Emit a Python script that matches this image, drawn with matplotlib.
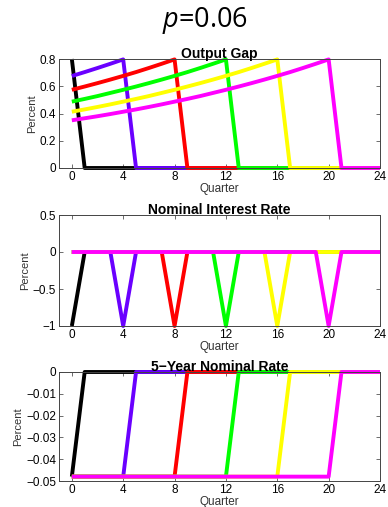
import matplotlib.pyplot as plt

quarters = list(range(25))
colors = ['#000000', '#6a00ff', '#ff0000', '#00ff00', '#ffff00', '#ff00ff']
xticks = [0, 4, 8, 12, 16, 20, 24]

# Output gap paths (quarter 0..24)
gap_black = [0.80, 0, 0, 0, 0, 0, 0, 0, 0, 0, 0, 0, 0, 0, 0, 0, 0, 0, 0, 0, 0, 0, 0, 0, 0]
gap_purple = [0.675, 0.704, 0.734, 0.765, 0.797, 0, 0, 0, 0, 0, 0, 0, 0, 0, 0, 0, 0, 0, 0, 0, 0, 0, 0, 0, 0]
gap_red = [0.574, 0.598, 0.623, 0.649, 0.676, 0.704, 0.734, 0.765, 0.797,
           0, 0, 0, 0, 0, 0, 0, 0, 0, 0, 0, 0, 0, 0, 0, 0]
gap_green = [0.487, 0.507, 0.528, 0.551, 0.574, 0.598, 0.623, 0.649, 0.676, 0.704, 0.734, 0.765, 0.797,
             0, 0, 0, 0, 0, 0, 0, 0, 0, 0, 0, 0]
gap_yellow = [0.413, 0.430, 0.448, 0.467, 0.487, 0.507, 0.528, 0.551, 0.574, 0.598, 0.623, 0.649, 0.676,
              0.704, 0.734, 0.765, 0.797, 0, 0, 0, 0, 0, 0, 0, 0]
gap_magenta = [0.350, 0.365, 0.380, 0.396, 0.413, 0.430, 0.448, 0.467, 0.487, 0.507, 0.528, 0.551, 0.574,
               0.598, 0.623, 0.649, 0.676, 0.704, 0.734, 0.765, 0.797, 0, 0, 0, 0]

# Nominal interest rate
rate_black = [-1, 0, 0, 0, 0, 0, 0, 0, 0, 0, 0, 0, 0, 0, 0, 0, 0, 0, 0, 0, 0, 0, 0, 0, 0]
rate_purple = [0, 0, 0, 0, -1, 0, 0, 0, 0, 0, 0, 0, 0, 0, 0, 0, 0, 0, 0, 0, 0, 0, 0, 0, 0]
rate_red = [0, 0, 0, 0, 0, 0, 0, 0, -1, 0, 0, 0, 0, 0, 0, 0, 0, 0, 0, 0, 0, 0, 0, 0, 0]
rate_green = [0, 0, 0, 0, 0, 0, 0, 0, 0, 0, 0, 0, -1, 0, 0, 0, 0, 0, 0, 0, 0, 0, 0, 0, 0]
rate_yellow = [0, 0, 0, 0, 0, 0, 0, 0, 0, 0, 0, 0, 0, 0, 0, 0, -1, 0, 0, 0, 0, 0, 0, 0, 0]
rate_magenta = [0, 0, 0, 0, 0, 0, 0, 0, 0, 0, 0, 0, 0, 0, 0, 0, 0, 0, 0, 0, -1, 0, 0, 0, 0]

# 5-year nominal rate
lr = -0.048
long_black = [lr] + [0] * 24
long_purple = [lr] * 5 + [0] * 20
long_red = [lr] * 9 + [0] * 16
long_green = [lr] * 13 + [0] * 12
long_yellow = [lr] * 17 + [0] * 8
long_magenta = [lr] * 21 + [0] * 4

panels = [
    ("Output Gap", [gap_black, gap_purple, gap_red, gap_green, gap_yellow, gap_magenta],
     (0, 0.8), [0, 0.2, 0.4, 0.6, 0.8], ['0', '0.2', '0.4', '0.6', '0.8']),
    ("Nominal Interest Rate", [rate_black, rate_purple, rate_red, rate_green, rate_yellow, rate_magenta],
     (-1, 0.5), [-1, -0.5, 0, 0.5], ['\u22121', '\u22120.5', '0', '0.5']),
    ("5\u2212Year Nominal Rate", [long_black, long_purple, long_red, long_green, long_yellow, long_magenta],
     (-0.05, 0), [-0.05, -0.04, -0.03, -0.02, -0.01, 0],
     ['\u22120.05', '\u22120.04', '\u22120.03', '\u22120.02', '\u22120.01', '0']),
]

plt.rcParams['font.family'] = ['Liberation Sans', 'DejaVu Sans']
plt.rcParams['mathtext.fontset'] = 'custom'
plt.rcParams['mathtext.it'] = 'Open Sans:italic'
plt.rcParams['mathtext.rm'] = 'Open Sans'

fig = plt.figure(figsize=(3.88, 5.07), dpi=100)
fig.text(0.528, 0.96, r'$p$=0.06', ha='center', va='center', fontsize=19.5, family='Open Sans')

# axes boxes in pixel units: left, top, right, bottom
boxes = [(59, 59, 380, 168), (59, 215, 380, 326), (59, 372, 380, 481)]
W, H = 388, 507
for (title, series, ylim, yt, ytl), (l, t, r, b) in zip(panels, boxes):
    ax = fig.add_axes([l / W, 1 - b / H, (r - l) / W, (b - t) / H])
    for ys, c in zip(series, colors):
        ax.plot(quarters, ys, color=c, lw=2.8, solid_capstyle='butt', clip_on=False)
    ax.set_xlim(-1, 24)
    ax.set_ylim(*ylim)
    ax.set_xticks(xticks)
    ax.set_yticks(yt)
    ax.set_yticklabels(ytl)
    ax.tick_params(direction='in', length=3, width=0.6, labelsize=8.5, top=True, right=True,
                   colors='#555555', labelcolor='black', pad=2)
    for s in ax.spines.values():
        s.set_linewidth(0.7)
        s.set_color('#444444')
    ax.set_title(title, fontsize=10, fontweight='bold', pad=0.5)
    ax.set_xlabel('Quarter', fontsize=8.5, labelpad=0, color='#333333')
    ax.set_ylabel('Percent', fontsize=8, labelpad=2, color='#333333')

fig.savefig('out.png', dpi=100)
